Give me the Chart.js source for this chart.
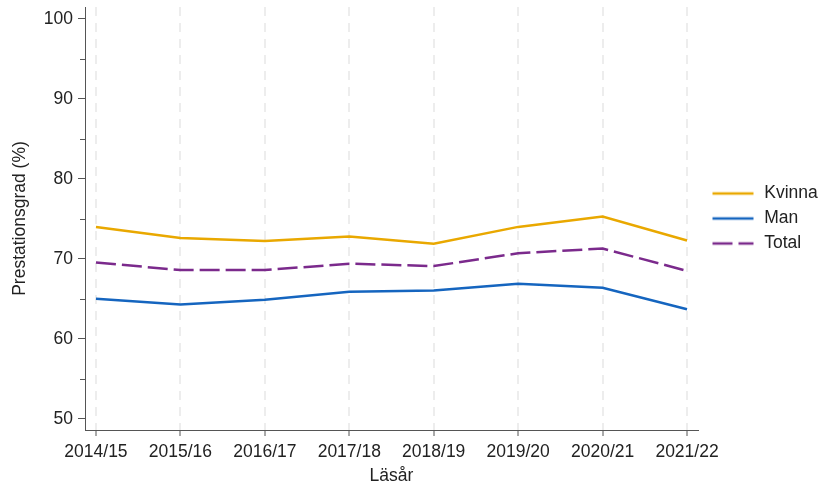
<!DOCTYPE html>
<html>
<head>
<meta charset="utf-8">
<script src="https://cdn.jsdelivr.net/npm/chart.js@4.4.1/dist/chart.umd.min.js"></script>
<style>
html,body{margin:0;padding:0;background:#fff;}
#wrap{width:827px;height:484px;position:relative;}
</style>
</head>
<body>
<div id="wrap"><canvas id="c" width="827" height="484"></canvas></div>
<script>
const categories = ["2014/15","2015/16","2016/17","2017/18","2018/19","2019/20","2020/21","2021/22"];
const kvinna = [74.0, 72.6, 72.25, 72.8, 71.9, 74.0, 75.3, 72.3];
const man    = [65.0, 64.3, 64.9, 65.9, 66.05, 66.9, 66.4, 63.7];
const total  = [69.55, 68.6, 68.6, 69.4, 69.1, 70.7, 71.3, 68.5];
const yMajorTicks = [50, 60, 70, 80, 90, 100];
const yMinorTicks = [55, 65, 75, 85, 95];

const FONT = "'Liberation Sans', Arial, sans-serif";
const FS = 17.5;
const AXIS = '#555555';
const TXT = '#222222';
const C_K = '#E9A800', C_M = '#1565BF', C_T = '#7B2A8C';

const pts = arr => arr.map((v, i) => ({x: i, y: v}));

function legendImg(color, dash) {
  const cv = document.createElement('canvas');
  cv.width = 50; cv.height = 6;
  const g = cv.getContext('2d');
  g.strokeStyle = color; g.lineWidth = 2.5; g.setLineDash(dash);
  g.beginPath(); g.moveTo(7, 3); g.lineTo(48, 3); g.stroke();
  return cv;
}
const legendImgs = [legendImg(C_K, []), legendImg(C_M, []), legendImg(C_T, [20, 6])];

const minorTicks = {
  id: 'minorTicks',
  afterDraw(chart) {
    const y = chart.scales.y, ctx = chart.ctx;
    ctx.save();
    ctx.strokeStyle = AXIS; ctx.lineWidth = 1;
    yMinorTicks.forEach(v => {
      const py = Math.round(y.getPixelForValue(v)) + 0.5;
      ctx.beginPath(); ctx.moveTo(y.right - 5, py); ctx.lineTo(y.right, py); ctx.stroke();
    });
    ctx.restore();
  }
};

new Chart(document.getElementById('c'), {
  type: 'line',
  data: {
    datasets: [
      {label: 'Kvinna', data: pts(kvinna), borderColor: C_K, backgroundColor: C_K, borderWidth: 2.5, pointRadius: 0, tension: 0, fill: false},
      {label: 'Man', data: pts(man), borderColor: C_M, backgroundColor: C_M, borderWidth: 2.5, pointRadius: 0, tension: 0, fill: false},
      {label: 'Total', data: pts(total), borderColor: C_T, backgroundColor: C_T, borderWidth: 2.5, borderDash: [20, 6], pointRadius: 0, tension: 0, fill: false}
    ]
  },
  options: {
    responsive: false,
    animation: false,
    layout: {padding: {top: 7, right: 0, bottom: 0, left: 0}},
    plugins: {
      legend: {
        position: 'right',
        align: 'center',
        fullSize: false,
        maxWidth: 129,
        labels: {
          usePointStyle: true, pointStyleWidth: 50,
          font: {family: FONT, size: FS}, color: TXT, padding: 7.5,
          generateLabels: chart => {
            const items = Chart.defaults.plugins.legend.labels.generateLabels(chart);
            items.forEach((it, i) => { it.pointStyle = legendImgs[i]; });
            return items;
          }
        }
      },
      tooltip: {enabled: false}
    },
    scales: {
      x: {
        type: 'linear', min: -0.13, max: 7.13,
        afterBuildTicks: s => { s.ticks = categories.map((c, i) => ({value: i})); },
        afterFit: s => { s.height = 54; },
        ticks: {callback: v => categories[v], font: {family: FONT, size: FS}, color: TXT, padding: 6, maxRotation: 0, autoSkip: false},
        grid: {color: '#ededed', lineWidth: 2, drawOnChartArea: true, drawTicks: true, tickLength: 6, tickColor: AXIS, tickWidth: 1, tickBorderDash: []},
        border: {display: true, color: AXIS, width: 1, dash: [9, 7]},
        title: {display: true, text: 'Läsår', font: {family: FONT, size: FS, lineHeight: 1}, color: TXT, padding: {top: 0, bottom: -1}}
      },
      y: {
        type: 'linear', min: 48.6, max: 101.5,
        afterBuildTicks: s => { s.ticks = yMajorTicks.map(v => ({value: v})); },
        afterFit: s => { s.width = 85; s.paddingTop = 0; s.paddingBottom = 0; },
        ticks: {font: {family: FONT, size: FS}, color: TXT, padding: 5},
        grid: {drawOnChartArea: false, drawTicks: true, tickLength: 7, tickColor: AXIS},
        border: {display: true, color: AXIS, width: 1},
        title: {display: true, text: 'Prestationsgrad (%)', font: {family: FONT, size: FS, lineHeight: 1}, color: TXT, padding: {top: 11.5, bottom: 0}}
      }
    }
  },
  plugins: [minorTicks]
});
</script>
</body>
</html>
